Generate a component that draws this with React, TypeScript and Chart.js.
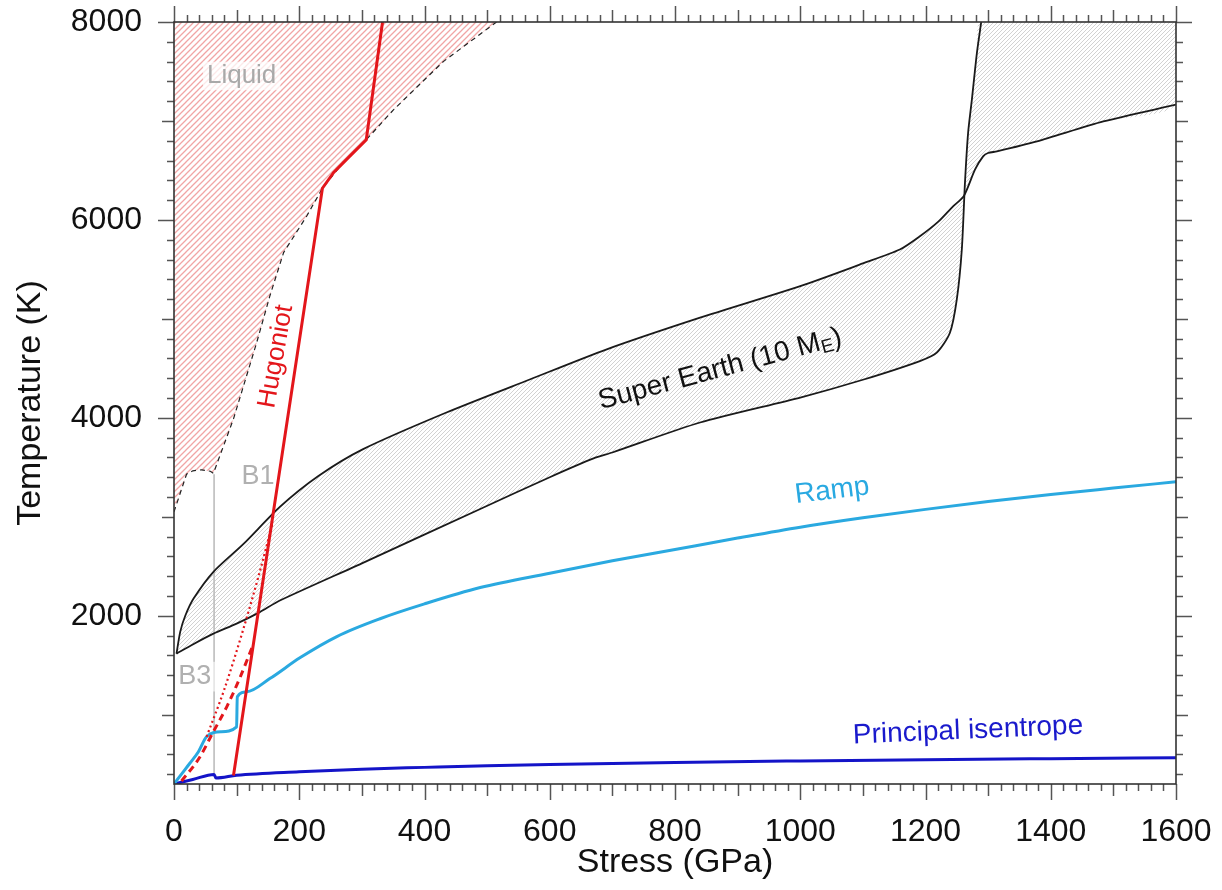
import React, { useEffect, useRef } from 'react';
import { Chart, registerables } from 'chart.js';

Chart.register(...registerables);

const FONT = "'Liberation Sans', Arial, Helvetica, sans-serif";

// Axis ranges & tick labels
const xMin = 0;
const xMax = 1600;
const yMin = 300;
const yMax = 8000;
const xTickLabels = [0, 200, 400, 600, 800, 1000, 1200, 1400, 1600];
const yTickLabels = [2000, 4000, 6000, 8000];

// Liquid boundary (dashed) — stress (GPa), temperature (K)
const liquidStress = [0, 20, 30, 44, 58, 63, 95, 132, 153, 175, 212, 237, 270, 307, 350, 430, 515];
const liquidTemp = [3050, 3430, 3465, 3475, 3460, 3440, 3990, 4760, 5230, 5670, 6040, 6320, 6580, 6810, 7110, 7600, 8000];

// B1 / B3 phase boundary (vertical grey line)
const b1b3Stress = [64, 64];
const b1b3Temp = [3430, 395];

// Hugoniot (solid red)
const hugStress = [95, 237, 255, 280, 307, 333];
const hugTemp = [385, 6320, 6480, 6640, 6810, 8000];

// Red dashed
const dashStress = [12, 40, 63, 85, 105, 126];
const dashTemp = [330, 560, 830, 1090, 1370, 1700];

// Red dotted
const dotStress = [52, 80, 110, 135, 158];
const dotTemp = [777, 1250, 1850, 2400, 2950];

// Ramp (light blue)
const rampStress = [0, 12, 25, 39, 52, 75, 100, 101, 116, 153, 201, 260, 329, 400, 489, 600, 700, 800, 900, 1000, 1100, 1200, 1300, 1400, 1500, 1600];
const rampTemp = [300, 400, 507, 626, 777, 828, 878, 1180, 1231, 1365, 1575, 1790, 1970, 2120, 2285, 2430, 2555, 2670, 2785, 2895, 2990, 3075, 3155, 3225, 3290, 3354];

// Principal isentrope (dark blue)
const isoStress = [0, 30, 64, 67, 100, 200, 300, 400, 500, 600, 800, 1000, 1200, 1400, 1600];
const isoTemp = [300, 345, 397, 360, 388, 424, 450, 468, 485, 498, 518, 533, 546, 556, 565];

// Super Earth (10 M_E) band
const seUpperStress = [4, 10, 18, 31, 63, 111, 169, 230, 302, 435, 569, 690, 840, 1000, 1100, 1159, 1191, 1220, 1244, 1261, 1279, 1292, 1300, 1314, 1378, 1484, 1600];
const seUpperTemp = [1617, 1840, 2000, 2171, 2444, 2726, 3100, 3410, 3684, 4054, 4390, 4690, 5012, 5331, 5560, 5701, 5835, 5980, 6138, 6239, 6508, 6642, 6676, 6692, 6793, 6995, 7165];
const seLowerStress = [4, 30, 63, 100, 137, 169, 300, 489, 600, 670, 700, 840, 1000, 1100, 1191, 1218, 1239, 1250, 1258, 1263, 1268, 1274, 1282, 1289];
const seLowerTemp = [1617, 1710, 1819, 1920, 2037, 2154, 2530, 3079, 3400, 3590, 3650, 3953, 4205, 4385, 4574, 4659, 4860, 5197, 5701, 6374, 6877, 7213, 7684, 8000];

const pts = (xs: number[], ys: number[]) => xs.map((x, i) => ({ x, y: ys[i] }));

function makeHatch(ctx: CanvasRenderingContext2D, color: string, size: number, width: number) {
  const c = document.createElement('canvas');
  c.width = size;
  c.height = size;
  const g = c.getContext('2d')!;
  g.strokeStyle = color;
  g.lineWidth = width;
  g.beginPath();
  g.moveTo(-1, size + 1);
  g.lineTo(size + 1, -1);
  g.moveTo(-size / 2 - 1, size / 2 + 1);
  g.lineTo(size / 2 + 1, -size / 2 - 1);
  g.moveTo(size / 2 - 1, size * 1.5 + 1);
  g.lineTo(size * 1.5 + 1, size / 2 - 1);
  g.stroke();
  return ctx.createPattern(c, 'repeat');
}

const framePlugin = {
  id: 'frameTicks',
  afterDraw(chart: any) {
    const { ctx, chartArea: a, scales } = chart;
    const x = scales.x;
    const y = scales.y;
    ctx.save();
    ctx.strokeStyle = '#555';
    ctx.lineWidth = 1.5;
    ctx.beginPath();
    for (let v = xMin; v <= xMax; v += 20) {
      const px = Math.round(x.getPixelForValue(v)) + 0.5;
      const len = v % 200 === 0 ? 16 : v % 100 === 0 ? 12 : 7;
      ctx.moveTo(px, a.bottom);
      ctx.lineTo(px, a.bottom + len);
      ctx.moveTo(px, a.top);
      ctx.lineTo(px, a.top - len);
    }
    for (let v = 400; v <= yMax; v += 200) {
      const py = Math.round(y.getPixelForValue(v)) + 0.5;
      const len = v % 2000 === 0 ? 16 : v % 1000 === 0 ? 12 : 7;
      ctx.moveTo(a.left, py);
      ctx.lineTo(a.left - len, py);
      ctx.moveTo(a.right, py);
      ctx.lineTo(a.right + len, py);
    }
    ctx.stroke();
    ctx.strokeStyle = '#333';
    ctx.lineWidth = 1.6;
    ctx.strokeRect(a.left, a.top, a.right - a.left, a.bottom - a.top);
    ctx.restore();
  },
};

type Note = { text: string; sub?: string; tail?: string; x: number; y: number; rot: number; color: string; size: number; bg?: string };

const notes: Note[] = [
  { text: 'Liquid', x: 108, y: 7455, rot: 0, color: '#a9a9a9', size: 26, bg: 'rgba(255,255,255,0.75)' },
  { text: 'B1', x: 134, y: 3402, rot: 0, color: '#b0b0b0', size: 27 },
  { text: 'B3', x: 33, y: 1385, rot: 0, color: '#b0b0b0', size: 27, bg: 'rgba(255,255,255,0.6)' },
  { text: 'Hugoniot', x: 163, y: 4620, rot: -80, color: '#e3161b', size: 26 },
  { text: 'Super Earth (10 M', sub: 'E', tail: ')', x: 872, y: 4490, rot: -15, color: '#111', size: 28 },
  { text: 'Ramp', x: 1051, y: 3262, rot: -7, color: '#29a9e1', size: 28 },
  { text: 'Principal isentrope', x: 1268, y: 838, rot: -2.5, color: '#1a1acc', size: 28 },
];

const notesPlugin = {
  id: 'notes',
  afterDatasetsDraw(chart: any) {
    const { ctx, scales } = chart;
    ctx.save();
    for (const n of notes) {
      const px = scales.x.getPixelForValue(n.x);
      const py = scales.y.getPixelForValue(n.y);
      ctx.save();
      ctx.translate(px, py);
      ctx.rotate((n.rot * Math.PI) / 180);
      ctx.textBaseline = 'middle';
      ctx.textAlign = 'left';
      const f = `${n.size}px ${FONT}`;
      const fs = `${Math.round(n.size * 0.68)}px ${FONT}`;
      ctx.font = f;
      const w1 = ctx.measureText(n.text).width;
      ctx.font = fs;
      const w2 = n.sub ? ctx.measureText(n.sub).width : 0;
      ctx.font = f;
      const w3 = n.tail ? ctx.measureText(n.tail).width : 0;
      const total = w1 + w2 + w3;
      let cx = -total / 2;
      if (n.bg) {
        ctx.fillStyle = n.bg;
        ctx.fillRect(cx - 4, -n.size * 0.55, total + 8, n.size * 1.1);
      }
      ctx.fillStyle = n.color;
      ctx.fillText(n.text, cx, 0);
      cx += w1;
      if (n.sub) {
        ctx.font = fs;
        ctx.fillText(n.sub, cx, n.size * 0.22);
        cx += w2;
        ctx.font = f;
      }
      if (n.tail) ctx.fillText(n.tail, cx, 0);
      ctx.restore();
    }
    ctx.restore();
  },
};

export default function App() {
  const ref = useRef<HTMLCanvasElement>(null);
  useEffect(() => {
    const canvas = ref.current!;
    const ctx = canvas.getContext('2d')!;
    const redHatch = makeHatch(ctx, 'rgba(232,105,105,0.6)', 6, 1.3);
    const grayHatch = makeHatch(ctx, 'rgba(135,135,135,0.42)', 4, 0.9);

    const liquidPoly = [...pts(liquidStress, liquidTemp), { x: xMin, y: yMax }];
    const bandPoly = [
      ...pts(seUpperStress, seUpperTemp),
      { x: xMax, y: yMax },
      ...pts(seLowerStress, seLowerTemp).reverse(),
    ];

    const line = (data: any[], color: string, width: number, order: number, extra: any = {}) => ({
      data,
      showLine: true,
      borderColor: color,
      backgroundColor: color,
      borderWidth: width,
      pointRadius: 0,
      pointHoverRadius: 0,
      fill: false,
      tension: 0,
      order,
      ...extra,
    });

    const chart = new Chart(canvas, {
      type: 'scatter',
      data: {
        datasets: [
          line(liquidPoly, 'rgba(0,0,0,0)', 0, 30, { fill: 'shape', backgroundColor: redHatch }),
          line(bandPoly, 'rgba(0,0,0,0)', 0, 29, { fill: 'shape', backgroundColor: grayHatch, tension: 0.25 }),
          line(pts(liquidStress, liquidTemp), '#222', 1.2, 12, { borderDash: [5, 4] }),
          line(pts(b1b3Stress, b1b3Temp), '#bdbdbd', 1.6, 11),
          line(pts(seUpperStress, seUpperTemp), '#1a1a1a', 1.8, 9, { tension: 0.25 }),
          line(pts(seLowerStress, seLowerTemp), '#1a1a1a', 1.8, 9, { tension: 0.25 }),
          line(pts(isoStress, isoTemp), '#1414c8', 3, 6, { cubicInterpolationMode: 'monotone' }),
          line(pts(rampStress, rampTemp), '#2aa9e0', 3, 5, { cubicInterpolationMode: 'monotone' }),
          line(pts(dotStress, dotTemp), '#e3161b', 2.2, 4, { borderDash: [2, 3], cubicInterpolationMode: 'monotone' }),
          line(pts(dashStress, dashTemp), '#e3161b', 3, 3, { borderDash: [7, 5], cubicInterpolationMode: 'monotone' }),
          line(pts(hugStress, hugTemp), '#e3161b', 3, 1),
        ],
      },
      options: {
        animation: false,
        responsive: false,
        devicePixelRatio: 1,
        layout: { padding: { left: 0, right: 46, top: 22, bottom: 0 } },
        plugins: { legend: { display: false }, tooltip: { enabled: false } },
        events: [],
        scales: {
          x: {
            type: 'linear',
            position: 'bottom',
            min: xMin,
            max: xMax,
            afterBuildTicks: (s: any) => {
              s.ticks = xTickLabels.map((v) => ({ value: v }));
            },
            afterFit: (s: any) => {
              s.height = 106;
              s.paddingLeft = 0;
              s.paddingRight = 0;
            },
            grid: { display: false },
            border: { display: false },
            ticks: {
              font: { family: FONT, size: 32 },
              color: '#111',
              padding: 21,
              maxRotation: 0,
              autoSkip: false,
              callback: (v: any) => String(v),
            },
            title: {
              display: true,
              text: 'Stress (GPa)',
              font: { family: FONT, size: 34 },
              color: '#111',
              padding: { top: 0, bottom: 7 },
            },
          },
          y: {
            type: 'linear',
            position: 'left',
            min: yMin,
            max: yMax,
            afterBuildTicks: (s: any) => {
              s.ticks = yTickLabels.map((v) => ({ value: v }));
            },
            afterFit: (s: any) => {
              s.width = 174;
              s.paddingTop = 0;
              s.paddingBottom = 0;
            },
            grid: { display: false },
            border: { display: false },
            ticks: {
              font: { family: FONT, size: 32 },
              color: '#111',
              padding: 24,
              autoSkip: false,
              callback: (v: any) => String(v),
            },
            title: {
              display: true,
              text: 'Temperature (K)',
              font: { family: FONT, size: 34 },
              color: '#111',
              padding: { top: 10, bottom: 0 },
            },
          },
        },
      },
      plugins: [notesPlugin, framePlugin],
    } as any);
    return () => chart.destroy();
  }, []);

  return (
    <div style={{ position: 'fixed', left: 0, top: 0, width: 1222, height: 890, background: '#fff' }}>
      <canvas ref={ref} width={1222} height={890} style={{ width: 1222, height: 890, display: 'block' }} />
    </div>
  );
}
